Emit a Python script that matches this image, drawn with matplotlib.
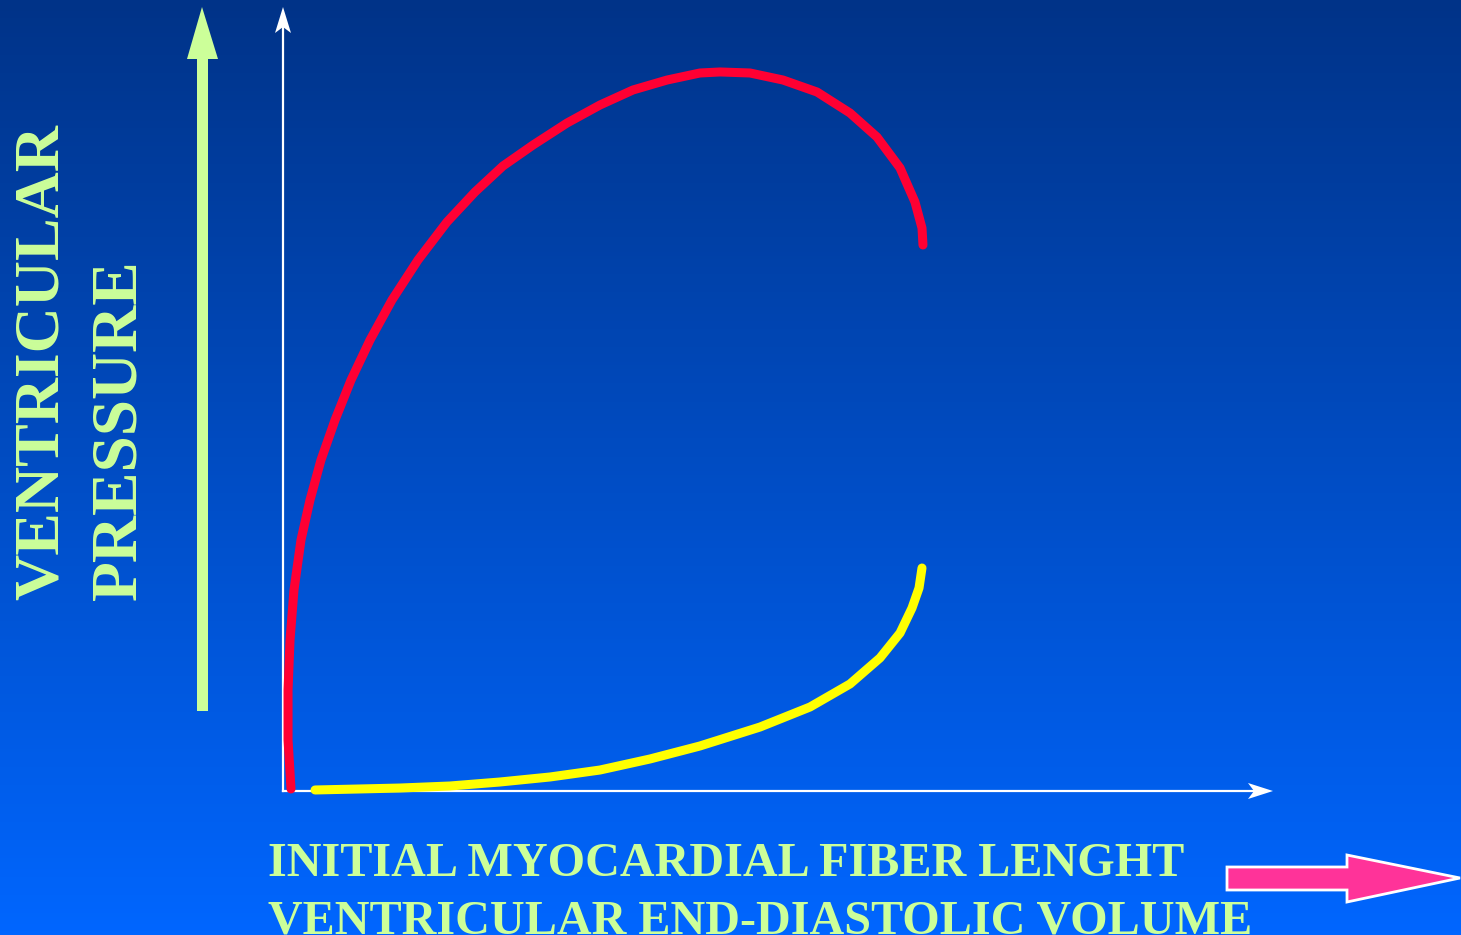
import numpy as np
import matplotlib.pyplot as plt
from matplotlib.patches import Polygon

# contraction curve (red) and passive filling curve (yellow)
# x: fiber length / end-diastolic volume (0-100), y: ventricular pressure (0-100)
red_x = [0.81, 0.51, 0.51, 0.71, 1.11, 1.82, 2.73, 3.84, 5.26, 6.88, 8.80, 11.02, 13.65, 16.58,
         19.41, 22.24, 25.28, 28.72, 32.05, 35.39, 38.83, 42.16, 44.19, 47.22, 50.56, 54.00,
         57.33, 60.06, 62.39, 63.90, 64.61, 64.71]
red_y = [0.26, 6.51, 12.90, 19.28, 25.67, 32.06, 37.16, 42.27, 47.38, 52.49, 57.60, 62.71, 67.82, 72.67,
         76.50, 79.82, 82.50, 85.31, 87.61, 89.53, 90.80, 91.70, 91.83, 91.70, 90.80, 89.27,
         86.59, 83.52, 79.57, 75.22, 71.90, 69.73]
yellow_x = [3.24, 7.79, 11.83, 16.89, 21.94, 27.00, 32.05, 37.11, 42.16, 48.23, 53.29, 57.33,
            60.36, 62.39, 63.60, 64.31, 64.61]
yellow_y = [0.13, 0.26, 0.38, 0.64, 1.15, 1.79, 2.68, 4.09, 5.75, 8.17, 10.73, 13.67,
            16.99, 20.18, 23.37, 25.93, 28.48]

y_label = ["VENTRICULAR", "PRESSURE"]
x_label = ["INITIAL MYOCARDIAL FIBER LENGHT", "VENTRICULAR END-DIASTOLIC VOLUME"]

W, H = 1461, 935
GREEN = '#CCFF99'
FONT = 'Liberation Serif'

fig = plt.figure(figsize=(W / 100, H / 100), dpi=100)

# background layer in pixel coordinates
bg = fig.add_axes([0, 0, 1, 1])
bg.set_xlim(0, W)
bg.set_ylim(H, 0)
bg.axis('off')
grad = np.linspace(0, 1, 256)[:, None]
top = np.array([0, 51, 136]) / 255
bottom = np.array([0, 102, 255]) / 255
img = top[None, None, :] * (1 - grad[:, :, None]) + bottom[None, None, :] * grad[:, :, None]
bg.imshow(img, extent=[0, W, H, 0], aspect='auto', zorder=0)

# green pressure arrow
bg.add_patch(Polygon([(197, 711), (208, 711), (208, 59), (218, 59), (202, 7), (187, 59), (197, 59)],
                     closed=True, facecolor=GREEN, edgecolor='none', zorder=2))

# white axis arrows
bg.plot([283, 283], [791, 25], color='white', lw=1.6, zorder=2)
bg.add_patch(Polygon([(283, 7), (291, 33), (283, 27), (275, 33)], closed=True,
                     facecolor='white', edgecolor='none', zorder=2))
bg.plot([283, 1255], [791, 791], color='white', lw=1.6, zorder=2)
bg.add_patch(Polygon([(1273, 791), (1248, 799), (1254, 791), (1248, 783)], closed=True,
                     facecolor='white', edgecolor='none', zorder=2))

# pink volume arrow
bg.add_patch(Polygon([(1227, 867), (1347, 867), (1347, 855), (1460, 878), (1347, 902),
                      (1347, 890), (1227, 890)], closed=True,
                     facecolor='#FF3399', edgecolor='white', lw=2, zorder=2))

# labels
bg.text(58, 600, y_label[0], rotation=90, rotation_mode='anchor', ha='left', va='baseline',
        color=GREEN, fontsize=46, fontweight='bold', family=FONT, zorder=3)
bg.text(135, 600, y_label[1], rotation=90, rotation_mode='anchor', ha='left', va='baseline',
        color=GREEN, fontsize=47, fontweight='bold', family=FONT, zorder=3)
bg.text(268, 876, x_label[0], ha='left', va='baseline',
        color=GREEN, fontsize=34.7, fontweight='bold', family=FONT, zorder=3)
bg.text(268, 933, x_label[1], ha='left', va='baseline',
        color=GREEN, fontsize=34.7, fontweight='bold', family=FONT, zorder=3)

# data axes: origin at the white axes corner
ax = fig.add_axes([283 / W, (H - 791) / H, 989 / W, 783 / H])
ax.set_xlim(0, 100)
ax.set_ylim(0, 100)
ax.axis('off')
ax.patch.set_alpha(0)
ax.plot(red_x, red_y, color='#FF0033', lw=6.5, solid_capstyle='round', solid_joinstyle='round', clip_on=False)
ax.plot(yellow_x, yellow_y, color='#FFFF00', lw=6.5, solid_capstyle='round', solid_joinstyle='round', clip_on=False)

fig.savefig('out.png', dpi=100)
